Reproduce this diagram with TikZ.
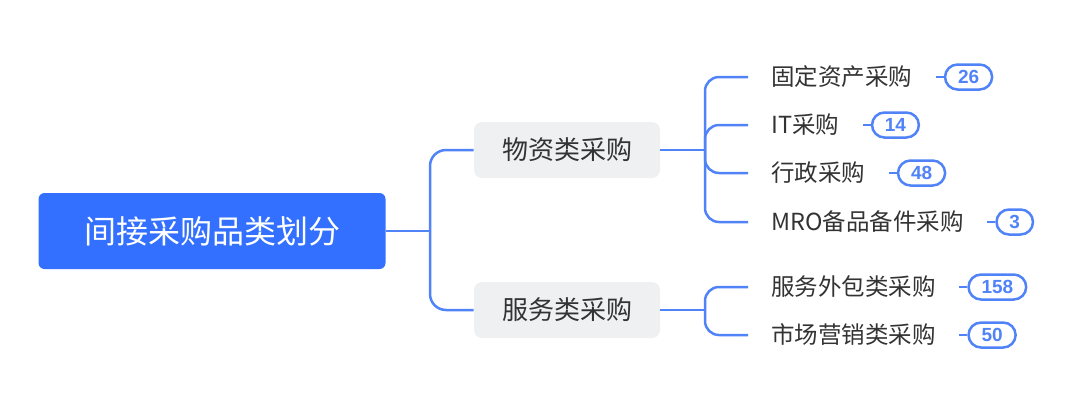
\documentclass[tikz,border=0pt]{standalone}
\usepackage{fontspec}
\setmainfont{Noto Sans CJK SC}
\newfontfamily\numfont{Liberation Sans}
\usetikzlibrary{positioning,shapes.misc}
\definecolor{rootblue}{RGB}{51,112,255}
\definecolor{linkblue}{RGB}{80,130,248}
\definecolor{boxgray}{RGB}{239,240,242}
\definecolor{textgray}{RGB}{51,51,51}
\tikzset{
  root/.style={fill=rootblue,rounded corners=3pt,text=white,
    minimum width=173.5pt,minimum height=38pt,
    font=\fontsize{16}{18}\selectfont},
  branch/.style={fill=boxgray,rounded corners=4pt,text=textgray,
    minimum width=93pt,minimum height=28pt,
    font=\fontsize{13}{15}\selectfont},
  leaf/.style={anchor=west,inner xsep=11.5pt,inner ysep=2pt,text=textgray,
    font=\fontsize{11.75}{13}\selectfont},
  count/.style={rounded rectangle,draw=linkblue,line width=1.25pt,fill=white,
    text=linkblue,minimum height=12.5pt,inner xsep=5.5pt,inner ysep=0pt,
    font=\numfont\bfseries\fontsize{9.5}{10}\selectfont},
  links/.style={draw=linkblue,line width=1.25pt},
  elbow/.style={rounded corners=7pt,to path={|- (\tikztotarget)}}
}
\begin{document}
\begin{tikzpicture}[x=0.5pt,y=-0.5pt]
  \useasboundingbox (0,0) rectangle (1080,408);

  \node[root] (root) at (212,231) {间接采购品类划分};
  \node[branch] (goods) at (567,150) {物资类采购};
  \node[branch] (service) at (567,310) {服务类采购};

  \coordinate (j0) at (430,231);
  \coordinate (j1) at (705,150);
  \coordinate (j2) at (705,310);

  % leaves
  \node[leaf] (fixed) at (748,77) {固定资产采购};
  \node[leaf] (it) at (748,125) {IT采购};
  \node[leaf] (admin) at (748,173) {行政采购};
  \node[leaf] (mro) at (748,222) {MRO备品备件采购};
  \node[leaf] (outsrc) at (748,287) {服务外包类采购};
  \node[leaf] (market) at (748,335) {市场营销类采购};

  % counts
  \node[count,right=4pt of fixed] (n1) {26};
  \node[count,right=4pt of it] (n2) {14};
  \node[count,right=4pt of admin] (n3) {48};
  \node[count,right=4pt of mro] (n4) {3};
  \node[count,right=4pt of outsrc] (n5) {158};
  \node[count,right=4pt of market] (n6) {50};

  \path[links]
  (root) edge (j0)
  (j0) edge[elbow,rounded corners=8pt] (goods.west)
  (j0) edge[elbow,rounded corners=8pt] (service.west)
  (goods) edge (j1)
  (service) edge (j2)
  (j1) edge[elbow] (fixed.west)
  (j1) edge[elbow] (it.west)
  (j1) edge[elbow] (admin.west)
  (j1) edge[elbow] (mro.west)
  (j2) edge[elbow] (outsrc.west)
  (j2) edge[elbow] (market.west)
  (fixed) edge (n1)
  (it) edge (n2)
  (admin) edge (n3)
  (mro) edge (n4)
  (outsrc) edge (n5)
  (market) edge (n6)
  ;
\end{tikzpicture}
\end{document}
